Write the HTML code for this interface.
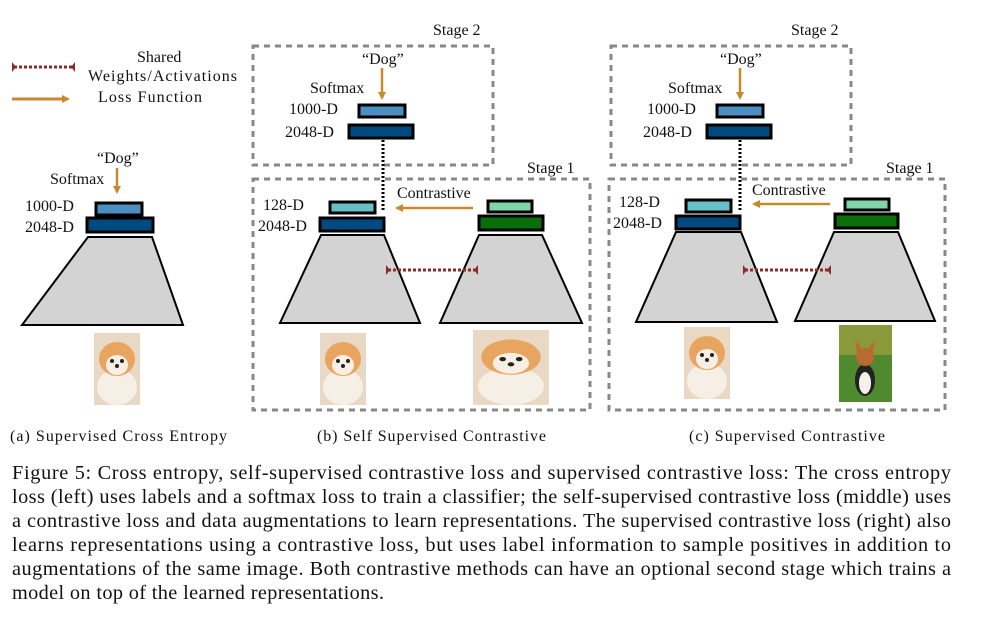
<!DOCTYPE html>
<html><head><meta charset="utf-8"><style>
body{margin:0;background:#fff}
svg{display:block;font-family:"Liberation Serif",serif}
</style></head><body>
<svg width="986" height="620" viewBox="0 0 986 620">
<defs>
<marker id="oa" markerWidth="8" markerHeight="8" refX="6" refY="4" orient="auto" markerUnits="userSpaceOnUse"><path d="M0,0 L8,4 L0,8 z" fill="#c8892d"/></marker>
<g id="pom">
<rect width="46" height="72" fill="#e9d8c4"/>
<ellipse cx="23" cy="54" rx="20" ry="18" fill="#f6efe6"/>
<ellipse cx="23" cy="26" rx="18" ry="17" fill="#e8a560"/>
<ellipse cx="23" cy="32" rx="11" ry="10" fill="#f7efe4"/>
<circle cx="18" cy="28" r="2" fill="#222"/><circle cx="28" cy="28" r="2" fill="#222"/>
<circle cx="23" cy="33" r="2" fill="#222"/>
</g>
</defs>
<g font-size="16" fill="#111">
<g>
<line x1="14" y1="67" x2="73" y2="67" stroke="#8b2a2a" stroke-width="3" stroke-dasharray="3,2"/>
<path d="M12,62 L16,67 L12,72 z M75,62 L71,67 L75,72 z" fill="#8b2a2a"/>
<line x1="12" y1="99" x2="68" y2="99" stroke="#c8892d" stroke-width="3" marker-end="url(#oa)"/>
<text x="137" y="62">Shared</text>
<text x="88" y="81" textLength="149">Weights/Activations</text>
<text x="98" y="102" textLength="104">Loss Function</text>
</g>
<g>
<text x="97" y="163">“Dog”</text>
<line x1="117" y1="168" x2="117" y2="192" stroke="#c8892d" stroke-width="2.5" marker-end="url(#oa)"/>
<text x="50" y="184">Softmax</text>
<text x="25" y="211">1000-D</text>
<text x="25" y="232">2048-D</text>
<rect x="96" y="203" width="46" height="12" fill="#4a8fc0" stroke="#000" stroke-width="3"/>
<rect x="87" y="218" width="66" height="14" fill="#004a80" stroke="#000" stroke-width="3"/>
<path d="M88,237 L152,237 L183,325 L22,325 z" fill="#d3d3d3" stroke="#000" stroke-width="2"/>
<use href="#pom" x="94" y="333"/>
<text x="10" y="441" textLength="217">(a) Supervised Cross Entropy</text>
</g>
<g>
<rect x="253" y="46" width="240" height="119" fill="none" stroke="#888" stroke-width="3" stroke-dasharray="6,5"/>
<text x="433" y="35">Stage 2</text>
<text x="362" y="64">“Dog”</text>
<line x1="382" y1="68" x2="382" y2="98" stroke="#c8892d" stroke-width="2.5" marker-end="url(#oa)"/>
<text x="310" y="93">Softmax</text>
<text x="289" y="114">1000-D</text>
<text x="285" y="137">2048-D</text>
<rect x="359" y="105" width="46" height="12" fill="#4a8fc0" stroke="#000" stroke-width="3"/>
<rect x="349" y="125" width="64" height="13" fill="#004a80" stroke="#000" stroke-width="3"/>
<line x1="383" y1="140" x2="383" y2="212" stroke="#000" stroke-width="3" stroke-dasharray="2,2"/>
<rect x="253" y="179" width="337" height="231" fill="none" stroke="#888" stroke-width="3" stroke-dasharray="6,5"/>
<text x="527" y="173">Stage 1</text>
<text x="397" y="198">Contrastive</text>
<line x1="473" y1="208" x2="397" y2="208" stroke="#c8892d" stroke-width="2.5" marker-end="url(#oa)"/>
<text x="263" y="210">128-D</text>
<text x="258" y="231">2048-D</text>
<rect x="330" y="202" width="45" height="11" fill="#66c0c8" stroke="#000" stroke-width="3"/>
<rect x="320" y="218" width="64" height="13" fill="#004a80" stroke="#000" stroke-width="3"/>
<rect x="488" y="201" width="44" height="11" fill="#80d4a8" stroke="#000" stroke-width="3"/>
<rect x="479" y="216" width="64" height="14" fill="#0a6e0a" stroke="#000" stroke-width="3"/>
<path d="M321,235 L384,235 L420,323 L280,323 z" fill="#d3d3d3" stroke="#000" stroke-width="2"/>
<path d="M479,235 L542,235 L582,323 L440,323 z" fill="#d3d3d3" stroke="#000" stroke-width="2"/>
<line x1="388" y1="270" x2="476" y2="270" stroke="#8b2a2a" stroke-width="3" stroke-dasharray="3,2"/>
<path d="M386,265 L390,270 L386,275 z M478,265 L474,270 L478,275 z" fill="#8b2a2a"/>
<use href="#pom" x="320" y="333"/>
<g transform="translate(473,330) scale(1.65,1.04)"><use href="#pom"/></g>
<text x="317" y="441" textLength="229">(b) Self Supervised Contrastive</text>
</g>
<g>
<rect x="611" y="46" width="240" height="119" fill="none" stroke="#888" stroke-width="3" stroke-dasharray="6,5"/>
<text x="791" y="35">Stage 2</text>
<text x="720" y="64">“Dog”</text>
<line x1="740" y1="68" x2="740" y2="98" stroke="#c8892d" stroke-width="2.5" marker-end="url(#oa)"/>
<text x="668" y="93">Softmax</text>
<text x="647" y="114">1000-D</text>
<text x="643" y="137">2048-D</text>
<rect x="717" y="105" width="46" height="12" fill="#4a8fc0" stroke="#000" stroke-width="3"/>
<rect x="707" y="125" width="64" height="13" fill="#004a80" stroke="#000" stroke-width="3"/>
<line x1="740" y1="140" x2="740" y2="210" stroke="#000" stroke-width="3" stroke-dasharray="2,2"/>
<rect x="609" y="179" width="336" height="231" fill="none" stroke="#888" stroke-width="3" stroke-dasharray="6,5"/>
<text x="886" y="173">Stage 1</text>
<text x="752" y="195">Contrastive</text>
<line x1="830" y1="204" x2="754" y2="204" stroke="#c8892d" stroke-width="2.5" marker-end="url(#oa)"/>
<text x="619" y="207">128-D</text>
<text x="613" y="228">2048-D</text>
<rect x="686" y="200" width="45" height="12" fill="#66c0c8" stroke="#000" stroke-width="3"/>
<rect x="676" y="216" width="64" height="13" fill="#004a80" stroke="#000" stroke-width="3"/>
<rect x="845" y="199" width="44" height="11" fill="#80d4a8" stroke="#000" stroke-width="3"/>
<rect x="835" y="214" width="63" height="14" fill="#0a6e0a" stroke="#000" stroke-width="3"/>
<path d="M676,232 L741,232 L777,322 L636,322 z" fill="#d3d3d3" stroke="#000" stroke-width="2"/>
<path d="M834,232 L898,232 L935,321 L795,321 z" fill="#d3d3d3" stroke="#000" stroke-width="2"/>
<line x1="745" y1="270" x2="829" y2="270" stroke="#8b2a2a" stroke-width="3" stroke-dasharray="3,2"/>
<path d="M743,265 L747,270 L743,275 z M831,265 L827,270 L831,275 z" fill="#8b2a2a"/>
<use href="#pom" x="684" y="327"/>
<g>
<rect x="839" y="325" width="53" height="77" fill="#4f8a2e"/>
<rect x="839" y="325" width="53" height="30" fill="#8a9a3a"/>
<ellipse cx="865" cy="380" rx="10" ry="16" fill="#222"/>
<ellipse cx="865" cy="383" rx="6" ry="11" fill="#f4f0ea"/>
<ellipse cx="865" cy="357" rx="9" ry="9" fill="#b86a30"/>
<path d="M857,352 L855,340 L862,349 z M873,352 L875,340 L868,349 z" fill="#b86a30"/>
</g>
<text x="689" y="441" textLength="196">(c) Supervised Contrastive</text>
</g>
</g>
<g font-size="20.3" fill="#111">
<text x="12" y="479" textLength="939" lengthAdjust="spacing">Figure 5:  Cross entropy, self-supervised contrastive loss and supervised contrastive loss: The cross entropy</text>
<text x="12" y="503" textLength="939" lengthAdjust="spacing">loss (left) uses labels and a softmax loss to train a classifier; the self-supervised contrastive loss (middle) uses</text>
<text x="12" y="527" textLength="939" lengthAdjust="spacing">a contrastive loss and data augmentations to learn representations. The supervised contrastive loss (right) also</text>
<text x="12" y="551" textLength="939" lengthAdjust="spacing">learns representations using a contrastive loss, but uses label information to sample positives in addition to</text>
<text x="12" y="575" textLength="939" lengthAdjust="spacing">augmentations of the same image. Both contrastive methods can have an optional second stage which trains a</text>
<text x="12" y="599" textLength="372" lengthAdjust="spacing">model on top of the learned representations.</text>
</g>
</svg>
</body></html>
